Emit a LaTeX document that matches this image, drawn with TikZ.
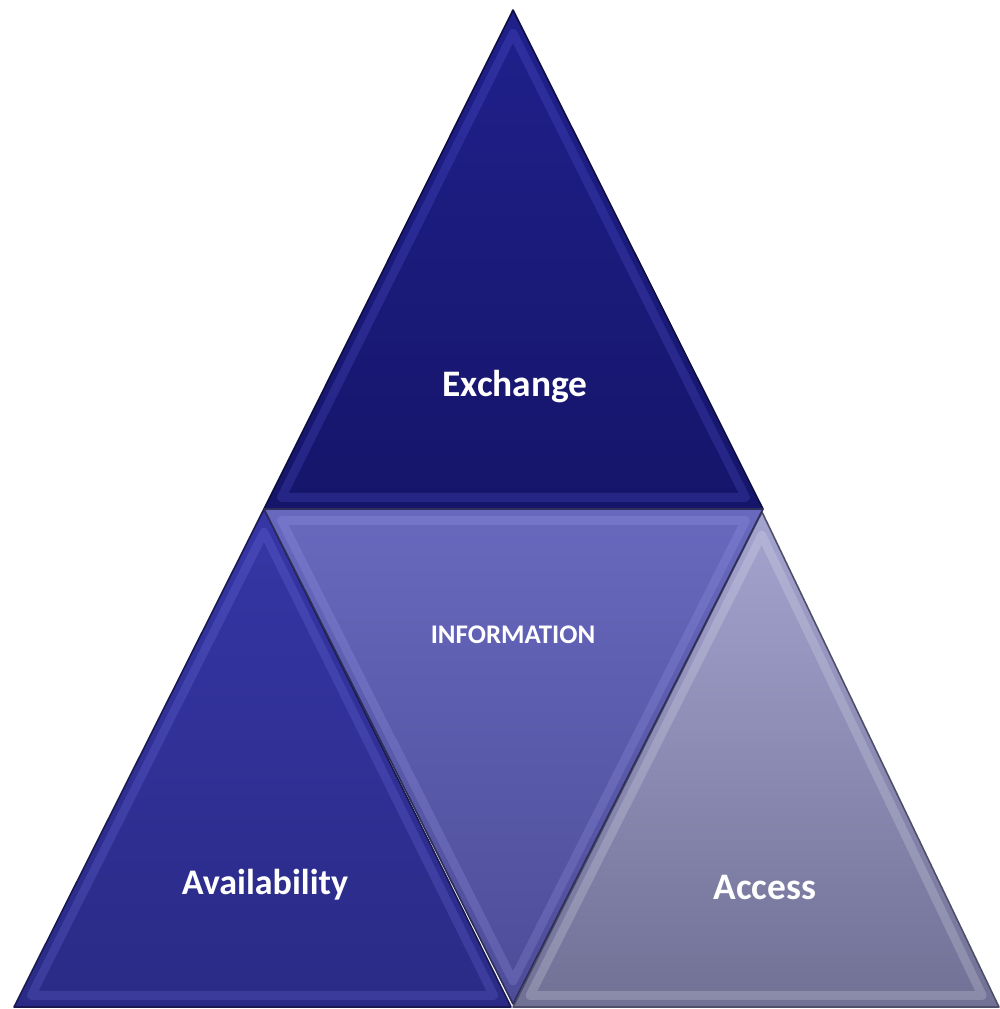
\documentclass[tikz,border=0pt]{standalone}
\usepackage{fontspec}
\setmainfont{Carlito}
\usetikzlibrary{calc}

\definecolor{topA}{HTML}{20208C}
\definecolor{topB}{HTML}{15156A}
\definecolor{lftA}{HTML}{3636A6}
\definecolor{lftB}{HTML}{2A2A86}
\definecolor{midA}{HTML}{6868BE}
\definecolor{midB}{HTML}{4C4C98}
\definecolor{rgtA}{HTML}{A4A4D0}
\definecolor{rgtB}{HTML}{717196}

\tikzset{
  facet/.style={draw=#1, line width=0.9pt, line join=round},
  bevel/.style={draw=#1, line width=5pt, opacity=0.18, line join=round},
  lbl/.style={text=white, inner sep=0pt, font=\bfseries\fontsize{21.3}{25}\selectfont},
  smalllbl/.style={text=white, inner sep=0pt, font=\bfseries\fontsize{15.3}{18}\selectfont}
}

\begin{document}
\begin{tikzpicture}[x=0.02cm, y=-0.02cm]
    \useasboundingbox (0,0) rectangle (1000,1009);

    % corners of the pyramid
    \coordinate (apex) at (513,10);
    \coordinate (midleft) at (264,509);
    \coordinate (midright) at (763,509);
    \coordinate (botleft) at (14,1007);
    \coordinate (lftcorner) at (511,1007);
    \coordinate (midbottom) at (513,1004);
    \coordinate (rgtapex) at (762,512);
    \coordinate (rgtcorner) at (513,1007);
    \coordinate (botright) at (999,1007);

    % centres, used for the bevels
    \coordinate (ctop) at ($1/3*(apex)+1/3*(midleft)+1/3*(midright)$);
    \coordinate (clft) at ($1/3*(midleft)+1/3*(botleft)+1/3*(lftcorner)$);
    \coordinate (cmid) at ($1/3*(midleft)+1/3*(midright)+1/3*(midbottom)$);
    \coordinate (crgt) at ($1/3*(rgtapex)+1/3*(rgtcorner)+1/3*(botright)$);

    % top facet
    \shade[top color=topA, bottom color=topB] (apex) -- (midleft) -- (midright) -- cycle;
    \draw[bevel=blue!55!white] ($(ctop)!0.93!(apex)$) -- ($(ctop)!0.93!(midleft)$) -- ($(ctop)!0.93!(midright)$) -- cycle;
    \draw[facet=topB!60!black] (apex) -- (midleft) -- (midright) -- cycle;

    % left facet
    \shade[top color=lftA, bottom color=lftB] (midleft) -- (botleft) -- (lftcorner) -- cycle;
    \draw[bevel=blue!45!white] ($(clft)!0.93!(midleft)$) -- ($(clft)!0.93!(botleft)$) -- ($(clft)!0.93!(lftcorner)$) -- cycle;
    \draw[facet=lftB!60!black] (midleft) -- (botleft) -- (lftcorner) -- cycle;

    % right facet
    \shade[top color=rgtA, bottom color=rgtB] (rgtapex) -- (rgtcorner) -- (botright) -- cycle;
    \draw[bevel=white] ($(crgt)!0.93!(rgtapex)$) -- ($(crgt)!0.93!(rgtcorner)$) -- ($(crgt)!0.93!(botright)$) -- cycle;
    \draw[facet=rgtB!70!black] (rgtapex) -- (rgtcorner) -- (botright) -- cycle;

    % middle facet
    \shade[top color=midA, bottom color=midB] (midleft) -- (midright) -- (midbottom) -- cycle;
    \draw[bevel=blue!30!white] ($(cmid)!0.93!(midleft)$) -- ($(cmid)!0.93!(midright)$) -- ($(cmid)!0.93!(midbottom)$) -- cycle;
    \draw[facet=midB!60!black] (midleft) -- (midright) -- (midbottom) -- cycle;

    % labels
    \node[lbl] (exchange) at (515,387) {Exchange};
    \node[smalllbl] (information) at (513,635) {INFORMATION};
    \node[lbl, font=\bfseries\fontsize{20.5}{24}\selectfont] (availability) at (265,885) {Availability};
    \node[lbl] (access) at (765,887) {Access};
\end{tikzpicture}
\end{document}
